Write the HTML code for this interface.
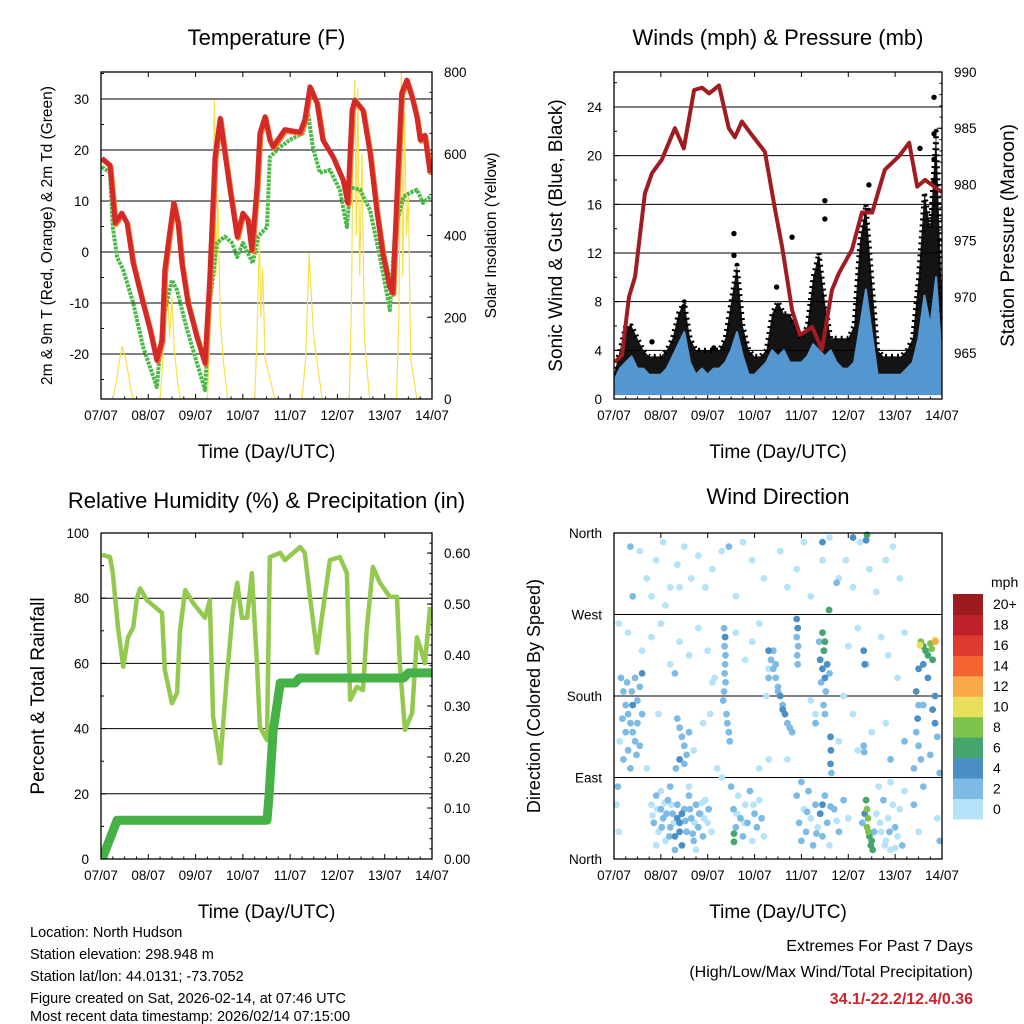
<!DOCTYPE html>
<html><head><meta charset="utf-8"><style>
html,body{margin:0;padding:0;background:#fff;}
svg{display:block;font-family:"Liberation Sans",Arial,sans-serif;}
</style></head><body>
<svg id="root" width="1024" height="1024" viewBox="0 0 1024 1024" xmlns="http://www.w3.org/2000/svg">
<rect width="1024" height="1024" fill="#fff"/>
<g id="gT"></g>
<g id="gW"></g>
<g id="gR"></g>
<g id="gD"></g>
<g font-size="14.5" fill="#000">
<text x="30" y="937">Location: North Hudson</text>
<text x="30" y="959">Station elevation: 298.948 m</text>
<text x="30" y="981">Station lat/lon: 44.0131; -73.7052</text>
<text x="30" y="1003">Figure created on Sat, 2026-02-14, at 07:46 UTC</text>
<text x="30" y="1024" dy="-3">Most recent data timestamp: 2026/02/14 07:15:00</text>
</g>
<g text-anchor="end">
<text x="973" y="951" font-size="16">Extremes For Past 7 Days</text>
<text x="973" y="977" font-size="16">(High/Low/Max Wind/Total Precipitation)</text>
<text x="973" y="1004" font-size="16" font-weight="bold" fill="#d0222b">34.1/-22.2/12.4/0.36</text>
</g>
</svg>
<script>
// ---------- DATA ----------
const dayLabels=["07/07","08/07","09/07","10/07","11/07","12/07","13/07","14/07"];
const tempTicks=[-20,-10,0,10,20,30];
const solarTicks=[0,200,400,600,800];
const tempTimes=[0.02,0.19,0.30,0.44,0.55,0.68,0.89,1.04,1.18,1.29,1.35,1.46,1.54,1.63,1.71,1.84,2.03,2.20,2.30,2.41,2.52,2.62,2.73,2.88,3.00,3.11,3.19,3.30,3.36,3.47,3.57,3.64,3.74,3.89,4.21,4.31,4.42,4.57,4.69,4.91,5.12,5.22,5.31,5.37,5.54,5.69,5.84,5.96,6.11,6.17,6.28,6.36,6.47,6.58,6.68,6.75,6.85,6.96];
const tempValues=[18.4,17,5.7,7.6,5.7,-2.2,-10,-15.3,-21.2,-17.3,-3.5,4.3,9.6,5.7,-2.2,-10,-16.7,-21.8,-4.9,18.6,26.2,19.4,12.2,3,7.6,6.3,0.4,12.7,23.3,26.5,22,20.6,22,24,23.5,25.9,32.4,29.2,22,18.6,14.1,9.6,27.8,29.8,27.8,19.4,7.6,-0.2,-6.9,-8,16.1,31.2,33.7,30.4,26.5,22,22.9,15.5];
const dewTimes=[0.02,0.19,0.25,0.34,0.47,0.68,0.89,1.18,1.31,1.50,1.61,1.82,2.03,2.20,2.30,2.45,2.62,2.77,2.88,3.00,3.21,3.32,3.51,3.57,3.79,4.00,4.27,4.38,4.48,4.63,4.84,5.05,5.20,5.27,5.48,5.69,5.90,6.11,6.22,6.39,6.53,6.68,6.81,6.96];
const dewValues=[16.7,15.5,4.9,-1,-3.5,-10,-18.6,-26.5,-13.3,-5.5,-7.5,-15.3,-21.8,-27.1,-10,1.8,3,1.8,-1,1.8,-2.2,3,4.9,18.6,20.6,22,23.3,27.2,20.6,15.5,16.1,12.2,4.9,12.7,12.2,8.2,-1,-11.4,4.3,10.8,11.6,12.2,9.6,10.8];
const solarTimes=[0.25,0.32,0.40,0.45,0.50,0.55,0.62,0.68,1.25,1.30,1.35,1.40,1.45,1.50,1.55,1.62,1.68,2.25,2.30,2.35,2.40,2.43,2.47,2.52,2.58,2.68,3.25,3.30,3.35,3.38,3.42,3.47,3.55,3.68,4.25,4.33,4.40,4.45,4.50,4.58,4.68,5.25,5.30,5.33,5.37,5.40,5.43,5.47,5.52,5.57,5.68,6.25,6.30,6.35,6.38,6.42,6.46,6.50,6.55,6.68];
const solarValues=[0,40,100,127,110,80,30,0,0,80,220,284,150,250,120,40,0,0,150,400,731,300,500,200,100,0,0,150,396,200,320,100,60,0,0,100,357,250,150,80,0,0,250,650,780,400,760,300,600,150,0,0,200,805,300,700,400,500,100,0];

const windTicks=[0,4,8,12,16,20,24];
const presTicks=[965,970,975,980,985,990];
const windTop=[1.5,2.5,3,3.5,2.5,2.5,2,2, 2,2.5,3.5,4.5,5.5,3,2,2.5, 2,2.5,2.5,3,4,5.5,3.5,2, 2,2.5,3,4,3.5,4,3,3, 3,3.5,4.5,4,3.5,4,3,2.5, 2.5,3,6,9,5.5,2,2,2, 2,2,2.5,3,5,8.5,6,10, 3];
const gustTop=[2,4,6,6,5,4,3.5,3.5, 3.5,4,5,7,8,5,4,4, 4,4,4,5,8,11,6,4, 3.5,3.5,4,7,8,7,7,6, 5,6,10,12,8,5,5,5, 5,6,13,16,10,4,3.5,3.5, 3.5,3.5,4,5,10,17,14,22, 8];
const gustPeakDays=[0.81,1.49,2.13,2.56,2.56,3.47,3.80,4.50,4.50,5.44,5.44,6.53,6.83,6.83,6.83,6.83,6.85];
const gustPeakVals=[4.7,7.6,4.2,13.6,11.8,9.2,13.3,16.3,14.8,17.6,15.5,20.6,24.8,21.8,19.7,17.9,16];
const presTimes=[0.02,0.17,0.32,0.45,0.66,0.81,1.02,1.17,1.30,1.49,1.71,1.88,2.03,2.24,2.45,2.58,2.73,2.94,3.22,3.44,3.59,3.80,3.97,4.23,4.44,4.65,4.80,5.08,5.29,5.51,5.78,6.08,6.30,6.47,6.64,7.0];
const presValues=[964.2,964.8,970,971.8,979.2,981,982.2,983.7,985,983.2,988.4,988.6,988.1,988.8,985,984.2,985.6,984.4,982.9,977.7,974.4,968.8,966.6,967.3,965.3,970.6,972.1,974.2,977.5,977.5,981.3,982.5,983.7,979.8,980.4,979.3];

const rhTicks=[0,20,40,60,80,100];
const precipTicks=[0,0.1,0.2,0.3,0.4,0.5,0.6];
const rhTimes=[0.02,0.19,0.25,0.36,0.47,0.57,0.68,0.76,0.83,0.97,1.29,1.35,1.50,1.61,1.67,1.78,1.95,2.20,2.30,2.37,2.52,2.66,2.79,2.88,2.98,3.09,3.19,3.30,3.36,3.51,3.57,3.79,3.89,4.21,4.31,4.42,4.57,4.67,4.84,5.05,5.20,5.27,5.41,5.54,5.62,5.75,5.90,6.11,6.26,6.32,6.43,6.58,6.68,6.75,6.85,6.96];
const rhValues=[93.3,92.6,87.7,71,59,68,71,80,83,79.4,75.5,58,47.8,51,70,82.5,78.5,74,79.4,43.6,29.4,55.8,76.4,84.7,74,74,87.7,60,40.5,36.5,92.6,93.9,91.7,95.7,93.9,80.4,63.2,74,91.7,92.6,87.7,48.8,52.8,51.8,70.2,89.6,84.7,80.4,80.4,60,39.6,44.8,68,65,60,77.3];
const precipTimes=[0,0.04,0.34,0.42,3.51,3.55,3.64,3.79,3.89,4.10,4.20,6.40,6.50,7.0];
const precipValues=[0,0.004,0.076,0.076,0.076,0.12,0.25,0.345,0.345,0.345,0.355,0.355,0.365,0.365];

const dirTicks=["North","East","South","West","North"];
const speedBins=["0","2","4","6","8","10","12","14","16","18","20+"];
const dirObs=[
[0.55,340,1],[0.7,310,1],[0.9,330,1],[1.05,350,1],[1.2,300,1],[1.35,325,1],[1.5,345,1],[1.65,310,1],[1.8,335,1],[1.95,300,1],[2.1,320,1],[0.8,290,1],[1.1,280,1],[1.4,300,1],[2.3,340,1],[2.6,290,1],[2.75,350,1],[2.95,330,1],[3.2,310,1],[3.55,340,1],[3.7,300,1],[3.9,320,1],[4.05,350,1],[4.2,290,1],[4.45,330,1],[4.6,355,1],[4.8,310,1],[4.95,330,1],[5.1,300,1],[5.25,350,1],[5.45,320,1],[5.6,295,1],[5.8,330,1],[5.95,345,1],[6.1,310,1],[0.35,345,3],[0.4,290,3],[2.45,345,3],[4.45,350,5],[4.75,305,3],[5.1,355,5],[4.59,275,6],[5.4,358,6],[5.38,352,4],
[0.1,260,1],[0.3,250,1],[0.6,230,1],[0.8,245,1],[1.0,260,1],[1.2,215,1],[1.4,240,1],[1.6,225,1],[1.8,255,1],[2.0,230,1],[2.15,200,1],[2.6,250,1],[2.8,220,1],[2.95,240,1],[3.1,260,1],[3.3,210,1],[5.0,235,1],[5.2,255,1],[5.4,215,1],[5.7,245,1],[5.85,225,1],[6.05,200,1],[6.2,250,1],[1.3,205,3],[2.1,195,1],
[2.35,255,3],[2.37,245,4],[2.36,235,3],[2.38,225,3],[2.37,215,3],[2.36,205,3],[2.38,195,2],[2.35,185,3],[2.33,175,2],[2.4,160,3],[2.42,150,2],[2.45,140,3],[2.47,130,2],
[0.15,200,3],[0.2,185,3],[0.25,170,3],[0.3,160,3],[0.35,150,2],[0.4,140,3],[0.45,130,3],[0.5,175,3],[0.55,190,3],[0.6,205,4],[0.45,200,3],[0.3,120,3],[0.25,140,2],[0.5,150,3],[0.4,170,4],[0.2,110,2],[0.35,100,3],[0.6,160,2],[0.12,130,1],[0.55,125,2],[0.18,155,3],[0.28,195,3],[0.48,115,3],[0.38,185,2],
[1.35,155,3],[1.4,145,3],[1.45,135,3],[1.5,125,3],[1.55,115,3],[1.4,110,4],[1.32,100,3],[1.5,105,2],[1.6,140,2],
[0.8,60,1],[0.85,40,2],[0.9,70,2],[0.95,30,1],[1.0,55,3],[1.05,45,2],[1.1,20,1],[1.15,65,2],[1.2,35,3],[1.25,50,2],[1.3,25,4],[1.35,60,3],[1.4,40,5],[1.45,15,4],[1.5,55,3],[1.55,30,2],[1.6,70,2],[1.65,45,3],[1.7,20,2],[1.75,60,3],[1.8,35,2],[1.85,50,1],[1.9,25,2],[1.95,65,1],[2.0,40,1],[1.0,75,1],[1.2,80,2],[1.6,80,1],[0.9,15,1],[1.3,10,2],[1.75,10,1],[1.45,50,5],[1.4,30,5],[1.35,45,4],
[0.82,48,1],[0.92,55,1],[1.02,35,2],[1.12,50,3],[1.22,60,1],[1.28,40,1],[1.52,42,3],[1.62,55,3],[1.72,40,1],[1.82,50,3],[1.92,45,1],[2.02,55,3],[1.08,62,1],[1.18,25,3],[1.68,28,3],[1.88,62,1],[2.08,30,1],
[2.5,80,3],[2.55,55,3],[2.6,35,2],[2.65,70,1],[2.7,45,3],[2.75,25,2],[2.8,60,1],[2.85,40,3],[2.9,75,2],[2.95,20,1],[3.0,50,3],[3.05,35,2],[3.1,65,1],[3.15,45,2],[3.2,25,1],[2.56,28,6],[2.56,19,6],[2.62,50,1],[2.78,40,1],[2.98,60,1],
[3.3,230,4],[3.35,220,3],[3.4,210,3],[3.45,200,3],[3.5,190,3],[3.55,180,4],[3.6,170,3],[3.65,160,4],[3.7,150,3],[3.75,145,3],[3.8,140,2],[3.4,230,2],[3.5,185,2],[3.6,165,4],[3.3,200,2],[3.25,180,1],[3.45,215,2],
[3.9,265,4],[3.92,255,4],[3.9,245,3],[3.93,235,3],[3.91,225,3],[3.92,215,2],
[4.45,250,6],[4.5,240,6],[4.48,230,7],[4.4,220,5],[4.45,210,5],[4.5,200,4],[4.55,215,4],[4.42,195,3],[4.38,240,3],[4.6,205,2],[4.52,185,3],[4.47,170,2],[4.5,160,2],[4.3,150,2],
[3.9,70,3],[3.95,40,3],[4.0,20,2],[4.05,55,1],[4.1,30,3],[4.15,75,2],[4.2,45,1],[4.25,15,3],[4.3,60,2],[4.35,35,1],[4.4,50,4],[4.45,25,2],[4.5,70,3],[4.55,40,2],[4.6,15,1],[4.7,55,2],[4.8,30,3],[4.9,65,2],[5.0,45,1],[4.45,60,5],[4.0,85,2],[4.12,52,3],[4.32,28,3],[4.62,58,3],[4.75,42,1],
[5.38,65,7],[5.4,55,8],[5.42,45,8],[5.4,35,9],[5.45,25,6],[5.48,15,7],[5.5,20,6],[5.52,10,7],[5.43,30,8],[5.35,50,4],[5.3,40,3],[5.55,30,3],
[5.6,50,1],[5.7,30,1],[5.75,65,2],[5.8,20,1],[5.85,45,1],[5.9,10,1],[5.95,60,1],[6.0,35,2],[6.05,25,1],[6.1,55,1],[6.15,15,2],[6.2,75,1],[5.65,80,1],[5.9,85,1],[5.68,40,1],[5.78,15,1],[5.88,30,3],[6.0,12,1],
[6.55,240,8],[6.6,235,7],[6.65,230,6],[6.7,225,6],[6.75,238,9],[6.85,242,10],[6.8,220,7],[6.6,215,5],[6.5,210,4],[6.7,200,4],[6.78,232,8],[6.53,236,11],[6.86,240,13],
[6.45,185,4],[6.5,170,3],[6.48,155,4],[6.45,140,3],[6.5,125,3],[6.55,110,3],[6.85,180,4],[6.8,165,5],[6.85,150,4],[6.9,135,3],[6.75,115,2],[6.4,100,2],[6.6,170,2],[6.95,95,3],
[6.4,60,3],[6.5,30,1],[6.6,80,2],[6.9,45,1],[6.95,20,3],
[0.05,60,1],[0.1,30,1],[0.08,80,3],[2.2,100,1],[2.3,90,1],[3.3,110,1],[3.1,100,1],[3.7,110,1],[5.2,120,1],[5.5,140,1],[5.8,150,1],[5.9,110,3],[6.2,130,3],[4.8,130,1],[4.9,180,1],[5.1,160,1],[4.3,160,1],[4.2,175,1],[0.7,100,1],[0.95,160,1],[1.7,120,1],[1.9,150,1],[2.05,160,1],
[4.62,135,4],[4.63,120,4],[4.62,105,4],[4.64,95,3],[5.33,125,3],[5.34,118,3],[5.33,230,4],[5.35,215,4]
];
const speedColors=["#b6e3f8","#7dbbe5","#4a8fc6","#46a46f","#7dc24c","#e8e05a","#f9a94a","#f26530","#de3a2f","#c0202a","#9b1b1e"];

// ---------- HELPERS ----------
const NS="http://www.w3.org/2000/svg";
function mk(parent,tag,attrs,text){const e=document.createElementNS(NS,tag);for(const k in attrs)e.setAttribute(k,attrs[k]);if(text!==undefined)e.textContent=text;parent.appendChild(e);return e;}
function lin(d0,d1,r0,r1){return v=>r0+(v-d0)*(r1-r0)/(d1-d0);}
function pathOf(xs,ys,fx,fy){return xs.map((t,i)=>(i?"L":"M")+fx(t).toFixed(1)+","+fy(ys[i]).toFixed(1)).join("");}

function frame(g,o){
  let t=mk(g,"text",{x:(o.x0+o.x1)/2,y:o.titleY,"text-anchor":"middle","font-size":22},o.title);
  
  
  o.grid.forEach(v=>{const y=o.fy(v);const l=mk(g,"line",{x1:o.x0,x2:o.x1,y1:y,y2:y,stroke:"#000","stroke-width":1});
    
    });
  const fx=lin(0,7,o.x0,o.x1);
  dayLabels.forEach((lab,i)=>{const x=fx(i);
    mk(g,"line",{x1:x,x2:x,y1:o.y1,y2:o.y1-5,stroke:"#000"});
    mk(g,"line",{x1:x,x2:x,y1:o.y0,y2:o.y0+5,stroke:"#000"});
    const tl=mk(g,"text",{x:x,y:o.y1+21,"text-anchor":"middle","font-size":13.5},lab);
    
    
    if(i<7){for(let k=1;k<4;k++){const xm=x+k*(fx(1)-fx(0))/4;mk(g,"line",{x1:xm,x2:xm,y1:o.y1,y2:o.y1-2.5,stroke:"#000"});}}
  });
  const xt=mk(g,"text",{x:(o.x0+o.x1)/2,y:o.y1+59,"text-anchor":"middle","font-size":19},"Time (Day/UTC)");
  
  
  o.lTicks.forEach((v,i)=>{const y=o.fy(v);
    mk(g,"line",{x1:o.x0,x2:o.x0+5,y1:y,y2:y,stroke:"#000"});
    const tl=mk(g,"text",{x:o.x0-12,y:y+5,"text-anchor":"end","font-size":13.5},o.lLab?o.lLab[i]:String(v));
    
    });
  if(o.lMinor)o.lMinor.forEach(v=>{const y=o.fy(v);mk(g,"line",{x1:o.x0,x2:o.x0+3,y1:y,y2:y,stroke:"#000"});});
  if(o.rTicks){o.rTicks.forEach((v,i)=>{const y=o.fr(v);
    mk(g,"line",{x1:o.x1,x2:o.x1-5,y1:y,y2:y,stroke:"#000"});
    const tl=mk(g,"text",{x:o.x1+12,y:y+5,"font-size":13.5},o.rLab[i]);
    
    });
    for(let k=0;k<o.rMinorN;k++){const y=o.y1-(o.y1-o.rTop)*k/(o.rMinorN-1);mk(g,"line",{x1:o.x1,x2:o.x1-2.5,y1:y,y2:y,stroke:"#000"});}
  }
  const ly=(o.y0+o.y1)/2;
  const lt=mk(g,"text",{x:o.lTitleX,y:ly,"text-anchor":"middle","font-size":o.lTitleSize,transform:`rotate(-90 ${o.lTitleX} ${ly})`},o.lTitle);
  
  
  if(o.rTitle){const rt=mk(g,"text",{x:o.rTitleX,y:ly,"text-anchor":"middle","font-size":o.rTitleSize,transform:`rotate(-90 ${o.rTitleX} ${ly})`},o.rTitle);
    
    }
  return fx;
}
function border(g,o){const b=mk(g,"rect",{x:o.x0,y:o.y0,width:o.x1-o.x0,height:o.y1-o.y0,fill:"none",stroke:"#000","stroke-width":1.3});
  
  }

// ---------- TEMPERATURE ----------
(function(){
  const g=document.getElementById("gT");
  const o={x0:101,x1:432,y0:72,y1:399,titleY:45,title:"Temperature (F)"};
  o.fy=lin(0,10,252,201);o.fr=lin(0,800,399,72);o.grid=[-20,-10,0,10,20,30];
  o.lTicks=tempTicks;o.lMinor=[-25,-15,-5,5,15,25,35];o.rTicks=solarTicks;o.rLab=solarTicks.map(String);o.rTop=72;o.rMinorN=17;
  o.lTitle="2m & 9m T (Red, Orange) & 2m Td (Green)";o.lTitleX=52;o.lTitleSize=15.5;
  o.rTitle="Solar Insolation (Yellow)";o.rTitleX=496;o.rTitleSize=15.5;
  const fx=frame(g,o);
  const cp=mk(g,"clipPath",{id:"cT"});mk(cp,"rect",{x:o.x0,y:o.y0,width:o.x1-o.x0,height:o.y1-o.y0});
  const pg=mk(g,"g",{"clip-path":"url(#cT)"});
  let p=mk(pg,"path",{d:pathOf(solarTimes,solarValues,fx,o.fr),fill:"none",stroke:"#f7e04a","stroke-width":1.2});
  
  
  p=mk(pg,"path",{d:pathOf(dewTimes,dewValues,fx,o.fy),fill:"none",stroke:"#4cb848","stroke-width":4,"stroke-linejoin":"round","stroke-dasharray":"3 1"});
  
  
  p=mk(pg,"path",{d:pathOf(tempTimes,tempValues,fx,o.fy),fill:"none",stroke:"#f47a2a","stroke-width":5,"stroke-linejoin":"round",transform:"translate(1,1.5)"});
  
  
  p=mk(pg,"path",{d:pathOf(tempTimes,tempValues,fx,o.fy),fill:"none",stroke:"#d42a27","stroke-width":5,"stroke-linejoin":"round"});
  
  
  border(g,o);
})();

// ---------- WINDS ----------
(function(){
  const g=document.getElementById("gW");
  const o={x0:614,x1:942,y0:72,y1:399,titleY:45,title:"Winds (mph) & Pressure (mb)"};
  o.fy=lin(0,24,399,107);o.fr=lin(965,990,353,72);o.grid=[4,8,12,16,20,24];
  o.lTicks=windTicks;o.lMinor=[2,6,10,14,18,22,26];o.rTicks=presTicks;o.rLab=presTicks.map(String);o.rTop=72;o.rMinorN=30;
  o.lTitle="Sonic Wind & Gust (Blue, Black)";o.lTitleX=562;o.lTitleSize=19;
  o.rTitle="Station Pressure (Maroon)";o.rTitleX=1014;o.rTitleSize=19;
  const fx=frame(g,o);
  const cp=mk(g,"clipPath",{id:"cW"});mk(cp,"rect",{x:o.x0,y:o.y0,width:o.x1-o.x0,height:o.y1-o.y0});
  const pg=mk(g,"g",{"clip-path":"url(#cW)"});
  const ts=gustTop.map((v,i)=>i/8);
  let d=pathOf(ts,gustTop,fx,o.fy);
  d+=ts.slice().reverse().map((t,i)=>"L"+fx(t).toFixed(1)+","+o.fy(windTop[windTop.length-1-i]*0.8).toFixed(1)).join("")+"Z";
  let p=mk(pg,"path",{d:d,fill:"#000","fill-opacity":0.92,stroke:"#000","stroke-width":5,"stroke-linejoin":"round","stroke-dasharray":"2 4"});
  
  
  gustPeakDays.forEach((t,i)=>{const c=mk(pg,"circle",{cx:fx(t),cy:o.fy(gustPeakVals[i]),r:2.7,fill:"#000"});
    
    });
  d=pathOf(ts,windTop,fx,o.fy)+"L"+fx(7)+","+o.fy(0.4)+"L"+fx(0)+","+o.fy(0.4)+"Z";
  p=mk(pg,"path",{d:d,fill:"#5497d0",stroke:"#5497d0","stroke-width":2,"stroke-linejoin":"round"});
  
  
  p=mk(pg,"path",{d:pathOf(presTimes,presValues,fx,o.fr),fill:"none",stroke:"#a01c20","stroke-width":4,"stroke-linejoin":"round"});
  
  
  border(g,o);
})();

// ---------- HUMIDITY ----------
(function(){
  const g=document.getElementById("gR");
  const o={x0:101,x1:432,y0:533,y1:859,titleY:508,title:"Relative Humidity (%) & Precipitation (in)"};
  o.fy=lin(0,100,859,533);o.fr=lin(0,0.6,859,553);o.grid=[20,40,60,80];
  o.lTicks=rhTicks;o.lMinor=[10,30,50,70,90];o.rTicks=precipTicks;o.rLab=precipTicks.map(v=>v.toFixed(2));o.rTop=533;o.rMinorN=33;
  o.lTitle="Percent & Total Rainfall";o.lTitleX=44;o.lTitleSize=19;
  const fx=frame(g,o);
  const cp=mk(g,"clipPath",{id:"cR"});mk(cp,"rect",{x:o.x0,y:o.y0,width:o.x1-o.x0,height:o.y1-o.y0});
  const pg=mk(g,"g",{"clip-path":"url(#cR)"});
  let p=mk(pg,"path",{d:pathOf(rhTimes,rhValues,fx,o.fy),fill:"none",stroke:"#93c94e","stroke-width":4.5,"stroke-linejoin":"round"});
  
  
  p=mk(pg,"path",{d:pathOf(precipTimes,precipValues,fx,o.fr),fill:"none",stroke:"#46b147","stroke-width":9,"stroke-linejoin":"round","stroke-linecap":"round"});
  
  
  border(g,o);
})();

// ---------- WIND DIRECTION ----------
(function(){
  const g=document.getElementById("gD");
  const o={x0:614,x1:942,y0:533,y1:859,titleY:504,title:"Wind Direction"};
  o.fy=lin(0,360,859,533);o.grid=[90,180,270];
  o.lTicks=[0,90,180,270,360];o.lLab=dirTicks;
  o.lTitle="Direction (Colored By Speed)";o.lTitleX=540;o.lTitleSize=18;
  const fx=frame(g,o);
  const cp=mk(g,"clipPath",{id:"cD"});mk(cp,"rect",{x:o.x0-4,y:o.y0-4,width:o.x1-o.x0+4,height:o.y1-o.y0+8});
  const pg=mk(g,"g",{"clip-path":"url(#cD)"});
  const sorted=dirObs.slice().sort((a,b)=>a[2]-b[2]);
  sorted.forEach(r=>{const bin=Math.min(10,Math.floor(r[2]/2));
    const c=mk(pg,"circle",{cx:fx(r[0]).toFixed(1),cy:o.fy(r[1]).toFixed(1),r:3.4,fill:speedColors[bin]});
    
    });
  border(g,o);
  const cb=mk(g,"g",{});
  
  
  const top=594,bot=819,h=(bot-top)/speedBins.length;
  mk(cb,"text",{x:991,y:587,"font-size":14},"mph");
  speedBins.forEach((lab,i)=>{const k=speedBins.length-1-i;const y=top+h*k;
    const r=mk(cb,"rect",{x:953,y:y,width:30,height:h+0.5,fill:speedColors[i]});
    
    
    const t=mk(cb,"text",{x:993,y:y+h/2+5,"font-size":14},lab);
    
    });
})();
</script>
</body></html>
